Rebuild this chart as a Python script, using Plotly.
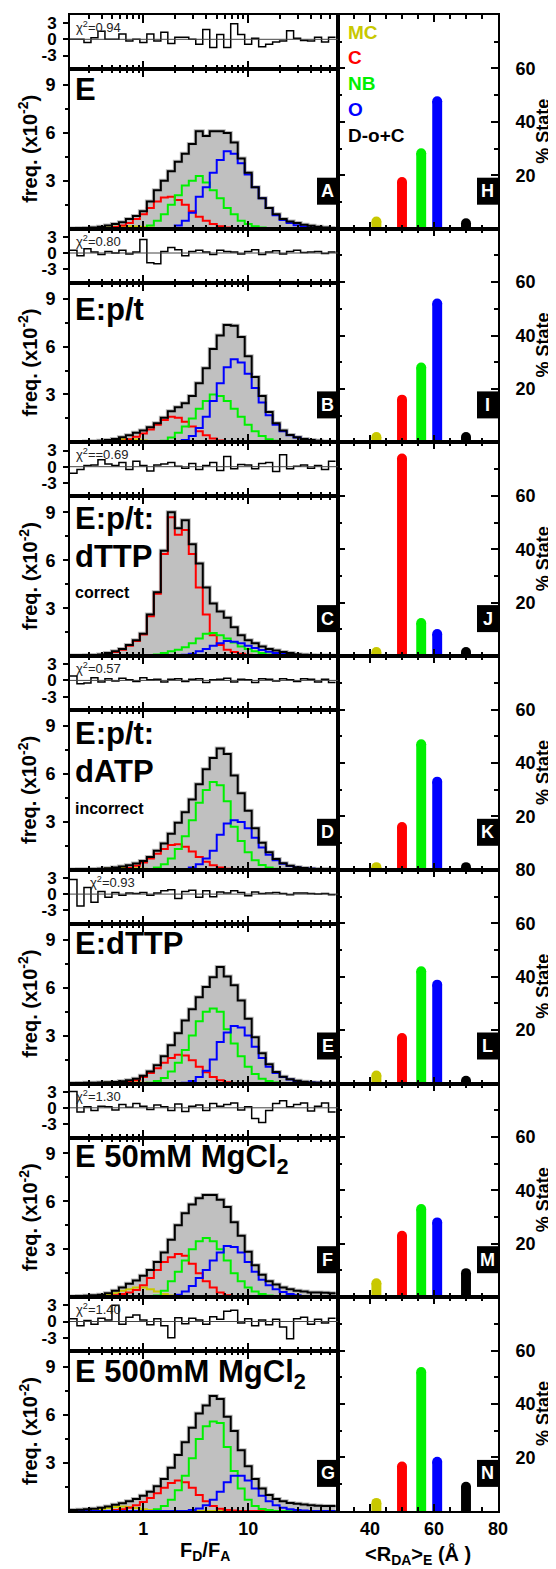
import plotly.graph_objects as go

# the page body has an 8px default margin, so the figure is laid out 8px smaller
W, H = 556, 1569
OFF = 8
FW, FH = W - OFF, H - OFF
FONT = "Liberation Sans, Arial, sans-serif"

# log-spaced F_D/F_A bin edges (15 per decade)
bin_edges = [0.1995, 0.2326, 0.2712, 0.3162, 0.3687, 0.4299, 0.5012, 0.5843, 0.6813, 0.7943,
             0.9261, 1.0798, 1.2589, 1.4678, 1.7113, 1.9953, 2.3263, 2.7123, 3.1623, 3.6869,
             4.2987, 5.0119, 5.8434, 6.8129, 7.9433, 9.2611, 10.798, 12.589, 14.678, 17.113,
             19.953, 23.263, 27.123, 31.623, 36.869, 42.987, 50.119, 58.434, 68.129]

# ---- panel A : E
fit_A = [0.02,0.03,0.05,0.08,0.12,0.2,0.3,0.4,0.6,0.8, 1.1,1.7,2.4,3.0,3.6,4.2,4.7,5.3,6.1,5.8,
         6.1,6.1,6.0,5.4,4.4,3.5,2.6,1.9,1.3,0.9, 0.6,0.45,0.35,0.25,0.18,0.12,0.08,0.05]
red_A = [0,0,0,0,0,0.05,0.1,0.2,0.35,0.6, 0.9,1.3,1.7,1.95,2.0,1.8,1.5,1.1,0.75,0.5,
         0.3,0.15,0.08,0.03,0,0,0,0,0,0, 0,0,0,0,0,0,0,0]
green_A = [0,0,0,0,0,0,0,0,0,0, 0.05,0.2,0.5,0.9,1.5,2.1,2.7,3.0,3.3,2.9,
           2.4,1.9,1.3,0.9,0.5,0.3,0.15,0.07,0.03,0, 0,0,0,0,0,0,0,0]
blue_A = [0,0,0,0,0,0,0,0,0,0, 0,0,0,0,0.05,0.2,0.5,1.0,2.0,2.6,
          3.5,4.3,4.85,4.7,4.1,3.4,2.6,1.9,1.3,0.85, 0.55,0.35,0.22,0.14,0.08,0.05,0.03,0.02]
yellow_A = [0,0,0,0.03,0.05,0.08,0.12,0.15,0.15,0.13, 0.1,0.07,0.04,0.02,0,0,0,0,0,0,
            0,0,0,0,0,0,0,0,0,0, 0,0,0,0,0,0,0,0]
res_A = [0,0,-0.6,0.3,1.5,0,0,1.0,-0.3,0, -0.6,1.0,-0.3,1.3,-0.8,0.4,0.4,0,-0.9,1.8,
         -1.5,0.9,-1.5,2.9,0.9,-0.9,0.2,-1.4,-0.9,-0.5, -0.3,1.6,0.2,-0.2,-0.3,0.4,-0.5,0.4]

# ---- panel B : E:p/t
fit_B = [0.02,0.03,0.05,0.07,0.1,0.15,0.22,0.32,0.45,0.6, 0.75,0.95,1.2,1.55,1.95,2.2,2.45,2.9,3.7,4.65,
         5.85,6.7,7.35,7.3,6.6,5.4,4.1,2.9,1.9,1.2, 0.75,0.47,0.32,0.22,0.15,0.1,0.06,0.04]
red_B = [0,0,0,0,0,0,0.05,0.1,0.2,0.35, 0.55,0.8,1.1,1.4,1.6,1.55,1.3,1.0,0.7,0.45,
         0.25,0.12,0.05,0.02,0,0,0,0,0,0, 0,0,0,0,0,0,0,0]
green_B = [0,0,0,0,0,0,0,0,0,0, 0,0,0,0.1,0.3,0.6,1.0,1.5,2.1,2.6,
           3.0,2.9,2.6,2.1,1.6,1.1,0.7,0.4,0.2,0.1, 0.05,0,0,0,0,0,0,0]
blue_B = [0,0,0,0,0,0,0,0,0,0, 0,0,0,0,0,0.05,0.15,0.4,0.9,1.6,
          2.6,3.7,4.7,5.2,5.0,4.3,3.4,2.5,1.7,1.1, 0.7,0.45,0.3,0.2,0.12,0.08,0.05,0.03]
yellow_B = [0,0,0,0,0.05,0.1,0.15,0.2,0.2,0.18, 0.12,0.08,0.04,0,0,0,0,0,0,0,
            0,0,0,0,0,0,0,0,0,0, 0,0,0,0,0,0,0,0]
res_B = [0.5,-0.5,0.8,0.2,-0.3,0.3,0,0.5,-0.2,0.2, 2.5,-1.8,-2.0,0.3,1.0,0.6,-0.5,0.3,0.5,0.2,
         -0.3,0.5,0.3,0.2,-0.2,0.3,0.6,-0.3,0.2,0.4, -0.2,0.3,0.5,0.1,0.2,0.3,-0.1,0.2]

# ---- panel C : E:p/t:dTTP correct
fit_C = [0.03,0.04,0.05,0.07,0.1,0.2,0.3,0.45,0.7,1.0, 1.4,2.6,4.0,6.6,9.0,8.0,8.5,7.0,5.8,4.3,
         3.3,2.8,2.4,1.8,1.3,1.0,0.8,0.6,0.45,0.35, 0.25,0.2,0.12,0.08,0.05,0.04,0.03,0.02]
red_C = [0,0,0,0,0,0.15,0.25,0.4,0.65,0.95, 1.35,2.5,3.9,6.4,8.7,7.6,7.9,6.4,4.3,2.6,
         1.3,0.7,0.4,0.25,0.15,0.08,0.04,0,0,0, 0,0,0,0,0,0,0,0]
green_C = [0,0,0,0,0,0,0,0,0,0, 0,0.05,0.1,0.2,0.3,0.4,0.55,0.8,1.1,1.4,
           1.45,1.3,1.1,0.85,0.6,0.45,0.3,0.2,0.1,0.05, 0,0,0,0,0,0,0,0]
blue_C = [0,0,0,0,0,0,0,0,0,0, 0,0,0,0,0,0.03,0.08,0.15,0.3,0.45,
          0.65,0.8,0.95,0.9,0.8,0.65,0.5,0.38,0.28,0.2, 0.14,0.1,0.06,0.04,0.02,0,0,0]
yellow_C = [0,0,0,0.02,0.03,0.04,0.05,0.05,0.04,0.03, 0.02,0,0,0,0,0,0,0,0,0,
            0,0,0,0,0,0,0,0,0,0, 0,0,0,0,0,0,0,0]
res_C = [-1.2,-0.5,0.2,0.3,1.3,0.5,0.2,0.8,-0.5,1.0, 0.2,-0.8,0.3,0.5,0.8,0.1,-0.3,0.6,-0.5,0.2,
         0.8,-0.7,1.9,-0.4,0.4,0.3,-0.4,0.6,0.8,-0.9, 2.2,-0.4,0.1,0.3,-0.3,0.2,-0.5,1.0]

# ---- panel D : E:p/t:dATP incorrect
fit_D = [0.02,0.03,0.04,0.05,0.07,0.1,0.14,0.2,0.28,0.4, 0.55,0.8,1.2,1.65,2.25,2.95,3.6,4.4,5.35,6.3,
         7.0,7.6,7.25,5.9,4.8,3.7,2.6,1.7,1.1,0.67, 0.41,0.25,0.16,0.11,0.07,0.05,0.03,0.02]
red_D = [0,0,0,0,0,0,0,0.05,0.12,0.25, 0.45,0.7,1.0,1.3,1.55,1.6,1.45,1.15,0.8,0.5,
         0.28,0.14,0.06,0.02,0,0,0,0,0,0, 0,0,0,0,0,0,0,0]
green_D = [0,0,0,0,0,0,0,0,0,0, 0,0.05,0.15,0.35,0.7,1.3,2.1,3.1,4.2,5.0,
           5.5,5.3,4.3,2.7,1.8,1.1,0.6,0.3,0.15,0.07, 0.03,0,0,0,0,0,0,0]
blue_D = [0,0,0,0,0,0,0,0,0,0, 0,0,0,0,0,0,0.05,0.15,0.35,0.7,
          1.2,2.2,2.9,3.1,3.0,2.6,2.0,1.4,0.95,0.6, 0.38,0.24,0.15,0.1,0.06,0.04,0.02,0.01]
yellow_D = [0,0,0,0,0.03,0.06,0.1,0.12,0.12,0.1, 0.07,0.04,0,0,0,0,0,0,0,0,
            0,0,0,0,0,0,0,0,0,0, 0,0,0,0,0,0,0,0]
res_D = [0.8,-0.6,-0.5,0.5,-0.3,0.3,-0.1,0.4,0.1,-0.2, 0.5,0.1,0.2,-0.3,0.2,0.3,-0.2,0.2,0.3,-0.4,
         0.1,0.2,0.4,-0.3,0.2,0.1,-0.4,0.3,0.2,-0.1, 0.3,0.1,-0.2,0.3,0.2,-0.3,0.2,-0.4]

# ---- panel E : E:dTTP
fit_E = [0.02,0.03,0.04,0.05,0.06,0.08,0.1,0.14,0.2,0.3, 0.48,0.75,1.15,1.7,2.4,3.15,3.95,4.65,5.4,6.05,
         6.65,7.3,6.7,6.15,5.2,4.05,2.9,1.9,1.2,0.72, 0.43,0.26,0.17,0.11,0.07,0.05,0.03,0.02]
red_E = [0,0,0,0,0,0,0,0.05,0.1,0.2, 0.4,0.65,0.95,1.3,1.6,1.8,1.75,1.45,1.05,0.7,
         0.4,0.2,0.08,0.03,0,0,0,0,0,0, 0,0,0,0,0,0,0,0]
green_E = [0,0,0,0,0,0,0,0,0,0, 0,0.05,0.15,0.35,0.75,1.3,2.1,3.0,3.9,4.5,
           4.7,4.5,3.4,2.5,1.7,1.05,0.6,0.3,0.15,0.07, 0.03,0,0,0,0,0,0,0]
blue_E = [0,0,0,0,0,0,0,0,0,0, 0,0,0,0,0,0,0.05,0.15,0.4,0.8,
          1.5,2.6,3.2,3.6,3.5,3.0,2.3,1.6,1.05,0.65, 0.4,0.25,0.16,0.1,0.06,0.04,0.02,0.01]
yellow_E = [0,0,0,0,0.02,0.04,0.06,0.07,0.07,0.06, 0.04,0.02,0,0,0,0,0,0,0,0,
            0,0,0,0,0,0,0,0,0,0, 0,0,0,0,0,0,0,0]
res_E = [2.7,-2.2,1.2,-1.5,0.5,-0.6,0.3,-0.2,0.2,0.1, 0.3,-0.2,0.2,0.6,0.8,-0.8,0.5,0.7,-0.6,0.6,
         -0.5,0.4,0.2,0.6,0.3,-0.3,0.4,0.1,0.2,0.3, 0.1,-0.1,0.2,0.2,0.1,0.0,0.1,-0.1]

# ---- panel F : E 50mM MgCl2
fit_F = [0.05,0.07,0.09,0.12,0.16,0.25,0.4,0.6,0.85,1.05, 1.35,1.7,2.2,2.8,3.6,4.5,5.25,5.8,6.2,6.4,
         6.4,6.1,5.65,4.7,3.85,2.85,2.0,1.4,1.0,0.8, 0.6,0.5,0.4,0.35,0.3,0.3,0.28,0.25]
red_F = [0,0,0,0,0.03,0.06,0.12,0.2,0.3,0.45, 0.75,1.2,1.7,2.2,2.5,2.7,2.6,2.1,1.5,1.0,
         0.6,0.3,0.12,0.05,0,0,0,0,0,0, 0,0,0,0,0,0,0,0]
green_F = [0,0,0,0,0,0,0,0,0,0, 0,0,0.1,0.4,1.0,1.6,2.3,3.0,3.5,3.7,
           3.5,3.0,2.3,1.5,1.0,0.6,0.35,0.2,0.1,0.05, 0,0,0,0,0,0,0,0]
blue_F = [0,0,0,0,0,0,0,0,0,0, 0,0,0,0,0,0.15,0.35,0.7,1.2,1.7,
          2.3,2.8,3.2,3.15,2.8,2.2,1.6,1.1,0.75,0.5, 0.32,0.2,0.12,0.08,0.05,0.03,0,0]
yellow_F = [0,0,0,0,0.06,0.15,0.25,0.4,0.5,0.6, 0.6,0.5,0.35,0.2,0.1,0.04,0,0,0,0,
            0,0,0,0,0,0,0,0,0,0, 0,0,0,0,0,0,0,0]
res_F = [3.0,-0.8,0.2,-0.5,0.3,0.2,-0.4,0.6,0.1,0.8, 0.3,-0.3,0.5,0.2,-0.5,0.7,-0.7,0.3,0.5,-0.5,
         0.8,0.3,0.6,0.9,-0.4,0.2,-2.0,-2.7,-0.5,0.8, 1.3,0.2,0.6,0.9,-0.6,0.3,0.9,-0.8]

# ---- panel G : E 500mM MgCl2
fit_G = [0.05,0.07,0.1,0.14,0.2,0.28,0.38,0.48,0.6,0.75, 0.95,1.2,1.55,2.0,2.7,3.5,4.3,5.2,6.1,6.6,
         7.2,7.0,5.9,5.0,3.8,2.8,2.0,1.4,1.0,0.75, 0.6,0.5,0.45,0.4,0.35,0.32,0.3,0.3]
red_G = [0,0,0,0,0,0,0.05,0.1,0.2,0.35, 0.55,0.8,1.1,1.45,1.75,1.9,1.8,1.45,1.0,0.6,
         0.3,0.13,0.05,0.02,0,0,0,0,0,0, 0,0,0,0,0,0,0,0]
green_G = [0,0,0,0,0,0,0,0,0,0, 0,0,0.1,0.3,0.7,1.3,2.2,3.3,4.5,5.3,
           5.6,5.5,4.0,2.5,1.4,0.7,0.3,0.12,0.05,0, 0,0,0,0,0,0,0,0]
blue_G = [0,0,0,0,0,0,0,0,0,0, 0,0,0,0,0,0,0,0.05,0.15,0.35,
          0.7,1.2,1.8,2.2,2.2,1.9,1.4,0.95,0.6,0.36, 0.2,0.11,0.06,0.03,0,0,0,0]
yellow_G = [0,0,0,0.05,0.1,0.18,0.25,0.28,0.25,0.18, 0.1,0.05,0,0,0,0,0,0,0,0,
            0,0,0,0,0,0,0,0,0,0, 0,0,0,0,0,0,0,0]
res_G = [0.5,-0.8,0.2,-0.5,0.6,0.3,3.0,-0.5,0.8,1.2, 0.3,-0.6,0.5,-0.8,-3.0,0.7,-0.4,0.6,0.3,-0.5,
         0.9,0.4,1.9,2.1,-0.3,0.5,-0.8,0.3,-0.6,0.4, -1.0,-3.2,0.5,0.8,-0.5,0.4,-0.3,0.6]

chi2 = ["0.94", "0.80", "=0.69", "0.57", "0.93", "1.30", "1.40"]

# state populations (% State) at <R_DA>_E (A)
states = ["MC", "C", "NB", "O", "D-o+C"]
state_rda = [42, 50, 56, 61, 70]
pct_H = [2.7, 17.5, 28.2, 47.7, 2.0]
pct_I = [2.0, 16.0, 28.0, 52.0, 2.0]
pct_J = [1.5, 74.0, 12.4, 8.3, 1.5]
pct_K = [1.0, 16.0, 47.0, 33.0, 1.0]
pct_L = [3.0, 17.0, 42.0, 37.0, 1.0]
pct_M = [5.2, 23.0, 33.0, 28.0, 9.0]
pct_N = [3.0, 16.6, 52.0, 18.4, 9.0]

fits = [fit_A, fit_B, fit_C, fit_D, fit_E, fit_F, fit_G]
reds = [red_A, red_B, red_C, red_D, red_E, red_F, red_G]
greens = [green_A, green_B, green_C, green_D, green_E, green_F, green_G]
blues = [blue_A, blue_B, blue_C, blue_D, blue_E, blue_F, blue_G]
yellows = [yellow_A, yellow_B, yellow_C, yellow_D, yellow_E, yellow_F, yellow_G]
resids = [res_A, res_B, res_C, res_D, res_E, res_F, res_G]
pcts = [pct_H, pct_I, pct_J, pct_K, pct_L, pct_M, pct_N]

left_tags = ["A", "B", "C", "D", "E", "F", "G"]
right_tags = ["H", "I", "J", "K", "L", "M", "N"]

YEL, RED, GRN, BLU = "#c8c800", "#ff0000", "#00f000", "#0000ff"
state_colors = [YEL, RED, GRN, BLU, "#000000"]

# ---- geometry (page pixels)
LX0, LX1, RX1 = 70, 338, 498
TOP0, ROW_H, RES_H = 15, 213.7, 54


def py(p):
    return 1 - (p - OFF) / FH


def px(p):
    return (p - OFF) / FW


def nm(n):
    return "" if n == 1 else str(n)


def steps(v):
    return v + [v[-1]]


def note(text, x, y, font, xanchor="center", **kw):
    return dict(text=text, xref="paper", yref="paper", x=px(x), y=py(y), xanchor=xanchor,
                yanchor="middle", showarrow=False, font=font, **kw)


minor_log = [0.2, 0.3, 0.4, 0.5, 0.6, 0.7, 0.8, 0.9, 2, 3, 4, 5, 6, 7, 8, 9, 20, 30, 40, 50, 60, 70]
tfont = dict(family=FONT, size=18, color="black", weight="bold")
common = dict(showline=True, linewidth=2, linecolor="black", showgrid=False, zeroline=False,
              tickwidth=2, tickcolor="black", layer="above traces", tickfont=tfont, automargin=False)

fig = go.Figure()
layout = dict(template="none", width=FW, height=FH, margin=dict(l=0, r=0, t=0, b=0, pad=0),
              paper_bgcolor="white", plot_bgcolor="rgba(0,0,0,0)", showlegend=False,
              font=dict(family=FONT, color="black"))
shapes, annots = [], []

for i in range(7):
    top = TOP0 + ROW_H * i
    mid = top + RES_H
    bot = top + ROW_H
    ar, am, ab = 3 * i + 1, 3 * i + 2, 3 * i + 3
    last = i == 6

    logx = dict(common, type="log", range=[-0.7, 1.857], tickvals=[1, 10], ticktext=["1", "10"],
                ticks="inside", ticklen=8, mirror="ticks",
                minor=dict(tickvals=minor_log, ticks="inside", ticklen=4, tickwidth=1.5, tickcolor="black"),
                domain=[px(LX0), px(LX1)])
    layout["xaxis" + nm(ar)] = dict(logx, anchor="y" + nm(ar), showticklabels=False)
    layout["yaxis" + nm(ar)] = dict(common, domain=[py(mid), py(top)], anchor="x" + nm(ar),
                                    range=[-5.5, 4.5], tickvals=[-3, 0, 3], ticktext=["-3", "0", "3"],
                                    ticks="outside", ticklen=5, mirror=True, ticklabelstandoff=3,
                                    tickfont=dict(tfont, size=17))
    layout["xaxis" + nm(am)] = dict(logx, anchor="y" + nm(am), showticklabels=last)
    layout["yaxis" + nm(am)] = dict(common, domain=[py(bot), py(mid)], anchor="x" + nm(am),
                                    range=[0, 10], tickvals=[3, 6, 9], ticks="outside", ticklen=5,
                                    mirror=True, ticklabelstandoff=4,
                                    minor=dict(tickvals=[1.5, 4.5, 7.5], ticks="outside", ticklen=3,
                                               tickwidth=1.5, tickcolor="black"))
    layout["xaxis" + nm(ab)] = dict(common, domain=[px(LX1), px(RX1)], anchor="y" + nm(ab),
                                    range=[30, 80], tickvals=[40, 60, 80], ticks="inside", ticklen=7,
                                    mirror="ticks", showticklabels=last,
                                    minor=dict(tickvals=[35, 45, 50, 55, 65, 70, 75], ticks="inside",
                                               ticklen=4, tickwidth=1.5, tickcolor="black"))
    layout["yaxis" + nm(ab)] = dict(common, domain=[py(bot), py(top)], anchor="x" + nm(ab), side="right",
                                    range=[0, 80], tickvals=[20, 40, 60, 80] if i == 4 else [20, 40, 60],
                                    ticks="inside", ticklen=7, mirror="ticks", ticklabelstandoff=12,
                                    minor=dict(tickvals=[10, 30, 50, 70], ticks="inside", ticklen=4,
                                               tickwidth=1.5, tickcolor="black"))

    # residuals
    shapes.append(dict(type="line", xref="x" + nm(ar) + " domain", x0=0, x1=1,
                       yref="y" + nm(ar), y0=0, y1=0, line=dict(color="#444", width=1)))
    fig.add_trace(go.Scatter(x=bin_edges, y=steps(resids[i]), mode="lines", line_shape="hv",
                             line=dict(color="black", width=1.5),
                             xaxis="x" + nm(ar), yaxis="y" + nm(ar)))

    # histograms
    xa, ya = "x" + nm(am), "y" + nm(am)
    fig.add_trace(go.Scatter(x=bin_edges, y=steps(fits[i]), mode="lines", line_shape="hv",
                             fill="tozeroy", fillcolor="#c0c0c0",
                             line=dict(color="#b8b8b8", width=4), xaxis=xa, yaxis=ya))
    for comp, col in [(yellows[i], YEL), (reds[i], RED), (greens[i], GRN), (blues[i], BLU)]:
        fig.add_trace(go.Scatter(x=bin_edges, y=steps(comp), mode="lines", line_shape="hv",
                                 line=dict(color=col, width=2), xaxis=xa, yaxis=ya))
    fig.add_trace(go.Scatter(x=bin_edges, y=steps(fits[i]), mode="lines", line_shape="hv",
                             line=dict(color="black", width=2), xaxis=xa, yaxis=ya))

    # state populations
    xb, yb = "x" + nm(ab), "y" + nm(ab)
    fig.add_trace(go.Bar(x=state_rda, y=pcts[i], width=3.1, marker=dict(color=state_colors, line_width=0),
                         xaxis=xb, yaxis=yb))
    fig.add_trace(go.Scatter(x=state_rda, y=pcts[i], mode="markers",
                             marker=dict(size=10, color=state_colors, line_width=0), xaxis=xb, yaxis=yb))

    # chi2 text
    annots.append(note("χ<sup>2</sup>=" + chi2[i], 88 if i == 4 else 74, top + 12,
                       dict(family=FONT, size=13, color="#222"), xanchor="left"))

    # tag boxes
    for x1, tag in [(LX1, left_tags[i]), (RX1, right_tags[i])]:
        shapes.append(dict(type="rect", xref="paper", yref="paper", x0=px(x1 - 21), x1=px(x1),
                           y0=py(bot - 24), y1=py(bot - 51), fillcolor="black", line_width=0, layer="above"))
        annots.append(note(tag, x1 - 10.5, bot - 37.5,
                           dict(family=FONT, size=18, color="white", weight="bold")))

    # axis titles
    annots.append(note("freq. (x10<sup>-2</sup>)", 28, (mid + bot) / 2,
                       dict(family=FONT, size=20, weight="bold"), textangle=-90))
    annots.append(note("% State", 543, (top + bot) / 2 + 10,
                       dict(family=FONT, size=18, weight="bold"), textangle=-90))

# panel titles
big = dict(family=FONT, size=31, weight="bold")
small = dict(family=FONT, size=16, weight="bold")
titles = [("E", 89, big), ("E:p/t", 309, big), ("E:p/t:", 518, big), ("dTTP", 556, big),
          ("correct", 592, small), ("E:p/t:", 733, big), ("dATP", 771, big),
          ("incorrect", 808, small), ("E:dTTP", 943, big), ("E 50mM MgCl<sub>2</sub>", 1159, big),
          ("E 500mM MgCl<sub>2</sub>", 1374, big)]
for txt, yy, f in titles:
    annots.append(note(txt, 73, yy, f, xanchor="left"))

# state legend
for j, (s, c) in enumerate(zip(states, state_colors)):
    annots.append(note(s, 346, 32 + 25.8 * j, dict(family=FONT, size=19, color=c, weight="bold"),
                       xanchor="left"))

# bottom axis titles
annots.append(note("F<sub>D</sub>/F<sub>A</sub>", 205, 1551, dict(family=FONT, size=20, weight="bold")))
annots.append(note("<R<sub>DA</sub>><sub>E</sub> (Å )", 418, 1555, dict(family=FONT, size=20, weight="bold")))

layout["shapes"] = shapes
layout["annotations"] = annots
fig.update_layout(**layout)
fig.write_html("out.html")
